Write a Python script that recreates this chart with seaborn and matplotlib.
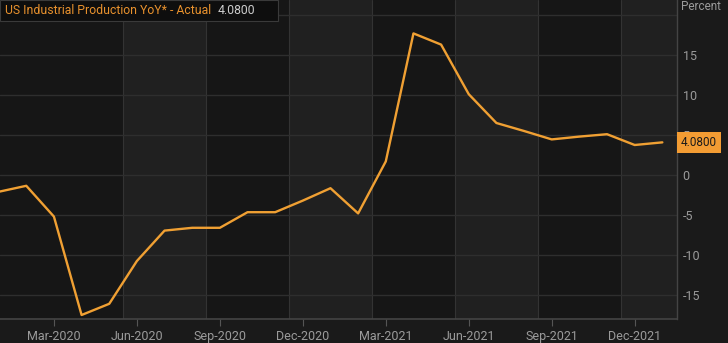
import matplotlib
matplotlib.use("Agg")
import matplotlib.pyplot as plt
import seaborn as sns
import pandas as pd
from matplotlib.patches import Rectangle

months = ["2020-01", "2020-02", "2020-03", "2020-04", "2020-05", "2020-06",
          "2020-07", "2020-08", "2020-09", "2020-10", "2020-11", "2020-12",
          "2021-01", "2021-02", "2021-03", "2021-04", "2021-05", "2021-06",
          "2021-07", "2021-08", "2021-09", "2021-10", "2021-11", "2021-12",
          "2022-01"]
values = [-2.1, -1.35, -5.2, -17.5, -16.1, -10.75, -6.95, -6.6, -6.6, -4.65,
          -4.65, -3.2, -1.65, -4.8, 1.7, 17.7, 16.3, 10.1, 6.5, 5.5, 4.45,
          4.8, 5.1, 3.75, 4.08]
tick_labels = ["Mar-2020", "Jun-2020", "Sep-2020", "Dec-2020",
               "Mar-2021", "Jun-2021", "Sep-2021", "Dec-2021"]
y_ticks = [-15, -10, -5, 0, 5, 10, 15]
title = "US Industrial Production YoY* - Actual"
last_label = "4.0800"

df = pd.DataFrame({"month": months, "value": values})
df["idx"] = range(len(df))

sns.set_theme(style="dark")
plt.rcParams["font.family"] = ["Roboto", "DejaVu Sans"]

fig = plt.figure(figsize=(7.28, 3.43), dpi=100)
fig.patch.set_facecolor("#1a1a1a")
ax = fig.add_axes([0, 24 / 343, 677 / 728, 1 - 24 / 343])
ax.set_facecolor("#161616")

# alternating background bands and vertical grid lines
edges = [0.0, 4.5, 7.5, 10.5, 13.5, 16.5, 19.5, 22.5, 25.0]
for k in range(len(edges) - 1):
    if k % 2 == 1:
        ax.axvspan(edges[k], edges[k + 1], color="#202020", lw=0, zorder=0)
for e in edges[1:-1]:
    ax.axvline(e, color="#333333", lw=0.8, zorder=1)
for yv in [-15, -10, -5, 0, 5, 10, 15, 20]:
    ax.axhline(yv, color="#2e2e2e", lw=1.0, zorder=1)

sns.lineplot(data=df, x="idx", y="value", ax=ax, color="#f0a033",
             linewidth=1.7, zorder=3)

ax.set_xlim(0.05, 24.53)
ax.set_ylim(-18, 21.875)

tick_pos = [i for i, m in enumerate(months) if m[5:] in ("03", "06", "09", "12")]
ax.set_xticks(tick_pos)
ax.set_xticklabels(tick_labels, color="#9a9a9a", fontsize=9)
ax.tick_params(axis="x", length=5, width=0.8, color="#555555", pad=3, bottom=True)

ax.yaxis.tick_right()
ax.set_yticks(y_ticks)
ax.set_yticklabels([str(v) for v in y_ticks], color="#9a9a9a", fontsize=9)
ax.tick_params(axis="y", length=0, pad=4)
ax.set_xlabel("")
ax.set_ylabel("")
ax.grid(False)

for s in ["top", "left"]:
    ax.spines[s].set_visible(False)
ax.spines["bottom"].set_color("#444444")
ax.spines["bottom"].set_linewidth(1.2)
ax.spines["right"].set_color("#444444")
ax.spines["right"].set_linewidth(1.0)

fig.text(681 / 728, 1 - 7 / 343, "Percent", color="#9a9a9a", fontsize=8.5,
         ha="left", va="center")

# last value label
ax.annotate(last_label, xy=(1.0, values[-1]), xycoords=("axes fraction", "data"),
            xytext=(3, 0), textcoords="offset points", ha="left", va="center",
            fontsize=8.5, color="#1a1a1a", zorder=10, annotation_clip=False,
            bbox=dict(boxstyle="square,pad=0.35", fc="#f39c33", ec="none"))

# title box
fig.patches.append(Rectangle((0, 1 - 21 / 343), 278 / 728, 21 / 343,
                             transform=fig.transFigure, fc="#0e0e0e",
                             ec="#3a3a3a", lw=0.8, zorder=5))
t1 = fig.text(5 / 728, 1 - 10.5 / 343, title, color="#e8912d", fontsize=8.8,
              ha="left", va="center", zorder=6)
fig.canvas.draw()
bb = t1.get_window_extent()
fig.text((bb.x1 + 6) / 728, 1 - 10.5 / 343, last_label, color="#cccccc",
         fontsize=8.8, ha="left", va="center", zorder=6)

fig.savefig("out.png", dpi=100, facecolor=fig.get_facecolor())
